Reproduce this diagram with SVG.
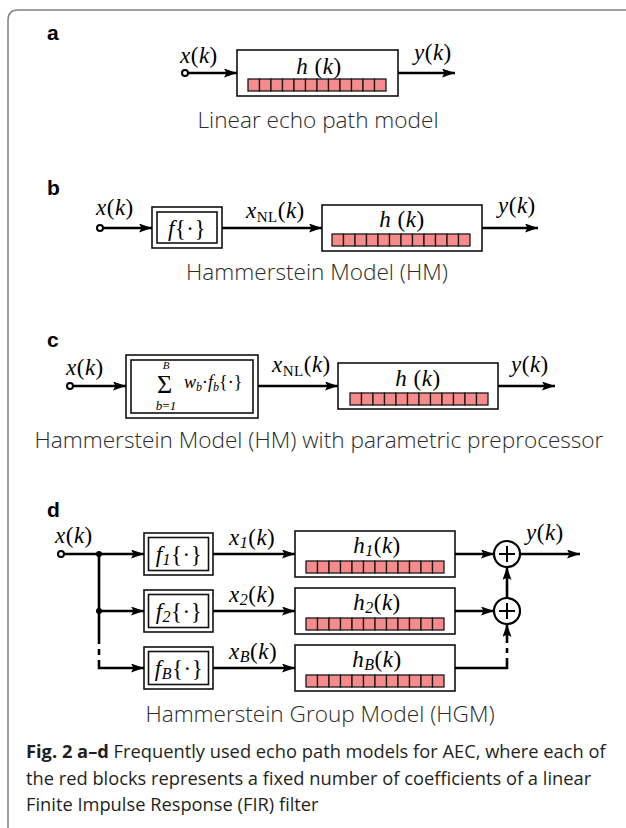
<svg xmlns="http://www.w3.org/2000/svg" xmlns:xlink="http://www.w3.org/1999/xlink" width="626" height="828" viewBox="0 0 626 828">
  <style>
    .frame { fill: none; stroke: #808080; stroke-width: 1.5; }
    .panel { font-family: "Liberation Sans", Arial, sans-serif; font-weight: bold; font-size: 21px; fill: #000; }
    .m { font-family: "Liberation Serif", "Times New Roman", serif; font-size: 23px; fill: #000; letter-spacing: 0.5px; }
    .cap { font-family: "Open Sans", "Noto Sans", sans-serif; font-weight: 300; font-size: 22.6px; fill: #2a2a2a; }
    .fig { font-family: "Open Sans", "Noto Sans", sans-serif; font-size: 18.3px; fill: #231f20; }
    .box { fill: #fff; stroke: #111; stroke-width: 1.6; }
    .wire { fill: none; stroke: #000; stroke-width: 2.6; }
    .arrow { marker-end: url(#ah); }
    .cell { fill: #f58b8b; stroke: #1a1a1a; stroke-width: 1.3; }
    .port { fill: #fff; stroke: #000; stroke-width: 2; }
    .sum { fill: #fff; stroke: #000; stroke-width: 2.2; }
  </style>
  <defs>
    <marker id="ah" markerWidth="14" markerHeight="10" refX="13" refY="4.5" orient="auto" markerUnits="userSpaceOnUse">
      <path d="M0,0 L13,4.5 L0,9 L2.5,4.5 z" fill="#000"/>
    </marker>
    <!-- FIR coefficient bar: 12 cells -->
    <g id="bar">
      <rect class="cell" x="0" y="0" width="11.5" height="12"/>
      <rect class="cell" x="11.5" y="0" width="11.5" height="12"/>
      <rect class="cell" x="23" y="0" width="11.5" height="12"/>
      <rect class="cell" x="34.5" y="0" width="11.5" height="12"/>
      <rect class="cell" x="46" y="0" width="11.5" height="12"/>
      <rect class="cell" x="57.5" y="0" width="11.5" height="12"/>
      <rect class="cell" x="69" y="0" width="11.5" height="12"/>
      <rect class="cell" x="80.5" y="0" width="11.5" height="12"/>
      <rect class="cell" x="92" y="0" width="11.5" height="12"/>
      <rect class="cell" x="103.5" y="0" width="11.5" height="12"/>
      <rect class="cell" x="115" y="0" width="11.5" height="12"/>
      <rect class="cell" x="126.5" y="0" width="11.5" height="12"/>
    </g>
  </defs>

  <rect width="626" height="828" fill="#fff"/>
  <path class="frame" d="M8,828 L8,20 Q8,10 18,10 L626,10"/>

  <!-- ===== (a) linear echo path ===== -->
  <text class="panel" x="47" y="40">a</text>
  <g id="a-filter">
    <rect class="box" x="237" y="50" width="161" height="46"/>
    <text class="m" x="319" y="74" text-anchor="middle"><tspan font-style="italic">h</tspan> (<tspan font-style="italic">k</tspan>)</text>
    <use xlink:href="#bar" x="248" y="79"/>
  </g>
  <g id="a-connectors">
    <line class="wire arrow" x1="188" y1="73" x2="237" y2="73"/>
    <line class="wire arrow" x1="398" y1="73" x2="455" y2="73"/>
    <circle class="port" cx="185" cy="73" r="3"/>
  </g>
  <text class="m" x="180" y="63"><tspan font-style="italic">x</tspan>(<tspan font-style="italic">k</tspan>)</text>
  <text class="m" x="414" y="60"><tspan font-style="italic">y</tspan>(<tspan font-style="italic">k</tspan>)</text>
  <text class="cap" x="318" y="128" text-anchor="middle">Linear echo path model</text>

  <!-- ===== (b) Hammerstein model ===== -->
  <text class="panel" x="47" y="195">b</text>
  <g id="b-nonlin">
    <rect class="box" x="152" y="207" width="70" height="41"/>
    <rect class="box" x="157" y="212" width="60" height="31"/>
    <text class="m" x="187" y="236" text-anchor="middle"><tspan font-style="italic">f</tspan>{·}</text>
  </g>
  <g id="b-filter">
    <rect class="box" x="322" y="205" width="160" height="46"/>
    <text class="m" x="402" y="227" text-anchor="middle"><tspan font-style="italic">h</tspan> (<tspan font-style="italic">k</tspan>)</text>
    <use xlink:href="#bar" x="332" y="234"/>
  </g>
  <g id="b-connectors">
    <line class="wire arrow" x1="103" y1="228" x2="152" y2="228"/>
    <line class="wire arrow" x1="222" y1="228" x2="322" y2="228"/>
    <line class="wire arrow" x1="482" y1="228" x2="538" y2="228"/>
    <circle class="port" cx="100" cy="228" r="3"/>
  </g>
  <text class="m" x="96" y="215"><tspan font-style="italic">x</tspan>(<tspan font-style="italic">k</tspan>)</text>
  <text class="m" x="246" y="218"><tspan font-style="italic">x</tspan><tspan font-size="15" dy="4">NL</tspan><tspan dy="-4">(</tspan><tspan font-style="italic">k</tspan>)</text>
  <text class="m" x="498" y="213"><tspan font-style="italic">y</tspan>(<tspan font-style="italic">k</tspan>)</text>
  <text class="cap" x="317" y="280" text-anchor="middle">Hammerstein Model (HM)</text>

  <!-- ===== (c) HM with parametric preprocessor ===== -->
  <text class="panel" x="47" y="347">c</text>
  <g id="c-preproc">
    <rect class="box" x="126" y="355" width="132" height="63"/>
    <rect class="box" x="131" y="360" width="122" height="53"/>
    <text x="157" y="393" font-family="Liberation Serif, serif" font-size="26" fill="#000">Σ</text>
    <text x="166" y="369" font-family="Liberation Serif, serif" font-size="11" font-style="italic" fill="#000" text-anchor="middle">B</text>
    <text x="166" y="410" font-family="Liberation Serif, serif" font-size="13" fill="#000" text-anchor="middle"><tspan font-style="italic">b</tspan>=<tspan font-style="italic">1</tspan></text>
    <text x="184" y="388" font-family="Liberation Serif, serif" font-size="18" fill="#000"><tspan font-style="italic">w</tspan><tspan font-style="italic" font-size="12" dy="3">b</tspan><tspan dy="-3">·</tspan><tspan font-style="italic">f</tspan><tspan font-style="italic" font-size="12" dy="3">b</tspan><tspan dy="-3">{·}</tspan></text>
  </g>
  <g id="c-filter">
    <rect class="box" x="338" y="363" width="160" height="46"/>
    <text class="m" x="418" y="386" text-anchor="middle"><tspan font-style="italic">h</tspan> (<tspan font-style="italic">k</tspan>)</text>
    <use xlink:href="#bar" x="350" y="393"/>
  </g>
  <g id="c-connectors">
    <line class="wire arrow" x1="73" y1="386" x2="126" y2="386"/>
    <line class="wire arrow" x1="258" y1="386" x2="338" y2="386"/>
    <line class="wire arrow" x1="498" y1="386" x2="555" y2="386"/>
    <circle class="port" cx="70" cy="386" r="3"/>
  </g>
  <text class="m" x="66" y="375"><tspan font-style="italic">x</tspan>(<tspan font-style="italic">k</tspan>)</text>
  <text class="m" x="272" y="372"><tspan font-style="italic">x</tspan><tspan font-size="15" dy="4">NL</tspan><tspan dy="-4">(</tspan><tspan font-style="italic">k</tspan>)</text>
  <text class="m" x="511" y="372"><tspan font-style="italic">y</tspan>(<tspan font-style="italic">k</tspan>)</text>
  <text class="cap" x="319" y="448" text-anchor="middle">Hammerstein Model (HM) with parametric preprocessor</text>

  <!-- ===== (d) Hammerstein group model ===== -->
  <text class="panel" x="47" y="517">d</text>
  <g id="d-f1">
    <rect class="box" x="144" y="533" width="69" height="42"/>
    <rect class="box" x="148.5" y="537.5" width="60" height="33"/>
    <text class="m" x="179" y="562" text-anchor="middle"><tspan font-style="italic">f</tspan><tspan font-style="italic" font-size="16" dy="3">1</tspan><tspan dy="-3">{·}</tspan></text>
  </g>
  <g id="d-f2">
    <rect class="box" x="144" y="590" width="69" height="42"/>
    <rect class="box" x="148.5" y="594.5" width="60" height="33"/>
    <text class="m" x="179" y="619" text-anchor="middle"><tspan font-style="italic">f</tspan><tspan font-style="italic" font-size="16" dy="3">2</tspan><tspan dy="-3">{·}</tspan></text>
  </g>
  <g id="d-fB">
    <rect class="box" x="144" y="647" width="69" height="42"/>
    <rect class="box" x="148.5" y="651.5" width="60" height="33"/>
    <text class="m" x="179" y="676" text-anchor="middle"><tspan font-style="italic">f</tspan><tspan font-style="italic" font-size="16" dy="3">B</tspan><tspan dy="-3">{·}</tspan></text>
  </g>
  <g id="d-h1">
    <rect class="box" x="295" y="531" width="160" height="46"/>
    <text class="m" x="377" y="553" text-anchor="middle"><tspan font-style="italic">h</tspan><tspan font-style="italic" font-size="16" dy="3">1</tspan><tspan dy="-3">(</tspan><tspan font-style="italic">k</tspan>)</text>
    <use xlink:href="#bar" x="306" y="561"/>
  </g>
  <g id="d-h2">
    <rect class="box" x="295" y="588" width="160" height="46"/>
    <text class="m" x="377" y="610" text-anchor="middle"><tspan font-style="italic">h</tspan><tspan font-style="italic" font-size="16" dy="3">2</tspan><tspan dy="-3">(</tspan><tspan font-style="italic">k</tspan>)</text>
    <use xlink:href="#bar" x="306" y="618"/>
  </g>
  <g id="d-hB">
    <rect class="box" x="295" y="645" width="160" height="46"/>
    <text class="m" x="377" y="667" text-anchor="middle"><tspan font-style="italic">h</tspan><tspan font-style="italic" font-size="16" dy="3">B</tspan><tspan dy="-3">(</tspan><tspan font-style="italic">k</tspan>)</text>
    <use xlink:href="#bar" x="306" y="675"/>
  </g>
  <g id="d-sum1">
    <circle class="sum" cx="507" cy="554" r="13"/>
    <path d="M499,554 H515 M507,546 V562" stroke="#000" stroke-width="2"/>
  </g>
  <g id="d-sum2">
    <circle class="sum" cx="507" cy="611" r="13"/>
    <path d="M499,611 H515 M507,603 V619" stroke="#000" stroke-width="2"/>
  </g>
  <g id="d-connectors">
    <!-- input split -->
    <line class="wire arrow" x1="64" y1="554" x2="144" y2="554"/>
    <line class="wire" x1="99" y1="554" x2="99" y2="644"/>
    <line class="wire" x1="99" y1="649" x2="99" y2="655"/>
    <path class="wire arrow" d="M99,660 V668 H144"/>
    <line class="wire arrow" x1="99" y1="611" x2="144" y2="611"/>
    <circle cx="99" cy="554" r="3" fill="#000"/>
    <circle cx="99" cy="611" r="3" fill="#000"/>
    <circle class="port" cx="61" cy="554" r="3"/>
    <!-- preprocessors to filters -->
    <line class="wire arrow" x1="213" y1="554" x2="295" y2="554"/>
    <line class="wire arrow" x1="213" y1="611" x2="295" y2="611"/>
    <line class="wire arrow" x1="213" y1="668" x2="295" y2="668"/>
    <!-- filters to adders -->
    <line class="wire arrow" x1="455" y1="554" x2="494" y2="554"/>
    <line class="wire arrow" x1="455" y1="611" x2="494" y2="611"/>
    <line class="wire arrow" x1="507" y1="598" x2="507" y2="567"/>
    <path class="wire" d="M455,668 H507 V658"/>
    <line class="wire" x1="507" y1="653" x2="507" y2="648"/>
    <line class="wire arrow" x1="507" y1="643" x2="507" y2="624"/>
    <line class="wire arrow" x1="520" y1="554" x2="580" y2="554"/>
  </g>
  <text class="m" x="55" y="543"><tspan font-style="italic">x</tspan>(<tspan font-style="italic">k</tspan>)</text>
  <text class="m" x="229" y="545"><tspan font-style="italic">x</tspan><tspan font-style="italic" font-size="16" dy="3">1</tspan><tspan dy="-3">(</tspan><tspan font-style="italic">k</tspan>)</text>
  <text class="m" x="229" y="602"><tspan font-style="italic">x</tspan><tspan font-style="italic" font-size="16" dy="3">2</tspan><tspan dy="-3">(</tspan><tspan font-style="italic">k</tspan>)</text>
  <text class="m" x="229" y="659"><tspan font-style="italic">x</tspan><tspan font-style="italic" font-size="16" dy="3">B</tspan><tspan dy="-3">(</tspan><tspan font-style="italic">k</tspan>)</text>
  <text class="m" x="526" y="540"><tspan font-style="italic">y</tspan>(<tspan font-style="italic">k</tspan>)</text>
  <text class="cap" x="320" y="722" text-anchor="middle">Hammerstein Group Model (HGM)</text>

  <!-- figure caption -->
  <text class="fig" x="26" y="758"><tspan font-weight="bold">Fig. 2 a–d</tspan> Frequently used echo path models for AEC, where each of</text>
  <text class="fig" x="26" y="785">the red blocks represents a fixed number of coefficients of a linear</text>
  <text class="fig" x="26" y="811">Finite Impulse Response (FIR) filter</text>
</svg>
